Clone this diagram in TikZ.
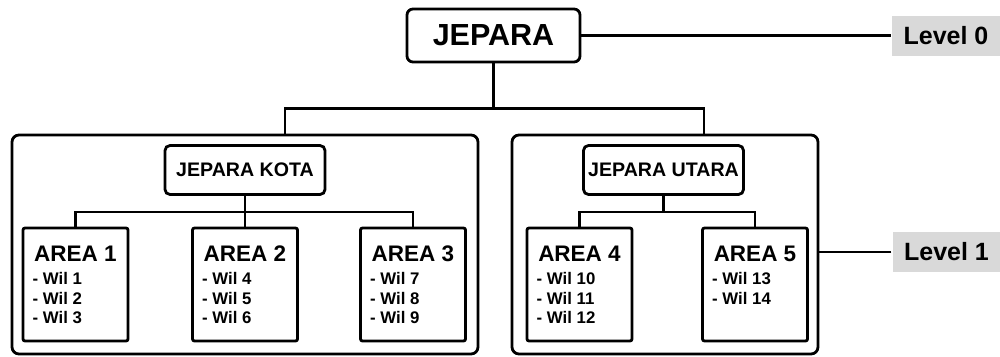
\documentclass[tikz,border=0pt]{standalone}
\usepackage{fontspec}
\setmainfont{Liberation Sans}

\begin{document}
\begin{tikzpicture}[x=1pt,y=-1pt,
  line width=2.2pt,
  topbox/.style={draw,line width=2.8pt,rounded corners=6pt,minimum width=173pt,minimum height=53pt,inner sep=0pt,font=\bfseries\fontsize{30.5}{34}\selectfont},
  groupbox/.style={draw,line width=2.8pt,rounded corners=7pt,minimum height=219pt,inner sep=0pt},
  subbox/.style={draw,line width=2.8pt,rounded corners=5pt,minimum width=160pt,minimum height=49pt,inner sep=0pt,font=\bfseries\fontsize{19.6}{23}\selectfont},
  areabox/.style={draw,line width=2.8pt,rounded corners=2pt,minimum width=105pt,minimum height=113pt,inner sep=0pt},
  areatitle/.style={anchor=north,inner sep=0pt,font=\bfseries\fontsize{22.5}{26}\selectfont},
  wil/.style={anchor=north west,inner sep=0pt,align=left,font=\bfseries\fontsize{16.8}{19.2}\selectfont},
  levelbox/.style={fill=gray!30,minimum width=108pt,minimum height=40pt,inner sep=0pt,font=\bfseries\fontsize{25}{29}\selectfont}]

\useasboundingbox (0,0) rectangle (1000,356);

% Level 0
\node[topbox] (jepara) at (493.5,35.5) {JEPARA};
\node[levelbox] (lv0) at (946,35.5) {Level 0};
\draw (jepara.east) -- (lv0.west);

% Group boxes
\node[groupbox,minimum width=466pt] (kotabox) at (245,244.5) {};
\node[groupbox,minimum width=306pt] (utarabox) at (665,244.5) {};
\draw (jepara.south) -- ++(0,45) coordinate (split);
\draw ([xshift=40pt]kotabox.north) |- (split) -| ([xshift=39pt]utarabox.north);

% Level 1
\node[levelbox] (lv1) at (946.5,252) {Level 1};
\draw (lv1.west) -- (lv1.west -| utarabox.east);

% Jepara Kota
\node[subbox] (kota) at (245,170) {JEPARA KOTA};
\node[areabox] (a1) at (75.5,284.5) {};
\node[areabox] (a2) at (245,284.5) {};
\node[areabox] (a3) at (413,284.5) {};
\draw (kota.south) -- ++(0,16) coordinate (kj);
\draw (a1.north) |- (kj) -| (a3.north);
\draw (kj) -- (a2.north);

% Jepara Utara
\node[subbox] (utara) at (663.5,170) {JEPARA UTARA};
\node[areabox] (a4) at (579.5,284.5) {};
\node[areabox] (a5) at (755,284.5) {};
\draw (utara.south) -- ++(0,16) coordinate (uj);
\draw (a4.north) |- (uj) -| (a5.north);

% Area texts
\foreach \a/\t in {a1/AREA 1,a2/AREA 2,a3/AREA 3,a4/AREA 4,a5/AREA 5}
  \node[areatitle] at ([yshift=-18.5pt]\a.north) {\t};
\node[wil] at ([xshift=10pt,yshift=-45pt]a1.north west) {- Wil 1\\- Wil 2\\- Wil 3};
\node[wil] at ([xshift=10pt,yshift=-45pt]a2.north west) {- Wil 4\\- Wil 5\\- Wil 6};
\node[wil] at ([xshift=10pt,yshift=-45pt]a3.north west) {- Wil 7\\- Wil 8\\- Wil 9};
\node[wil] at ([xshift=10pt,yshift=-45pt]a4.north west) {- Wil 10\\- Wil 11\\- Wil 12};
\node[wil] at ([xshift=10pt,yshift=-45pt]a5.north west) {- Wil 13\\- Wil 14};

\end{tikzpicture}
\end{document}
